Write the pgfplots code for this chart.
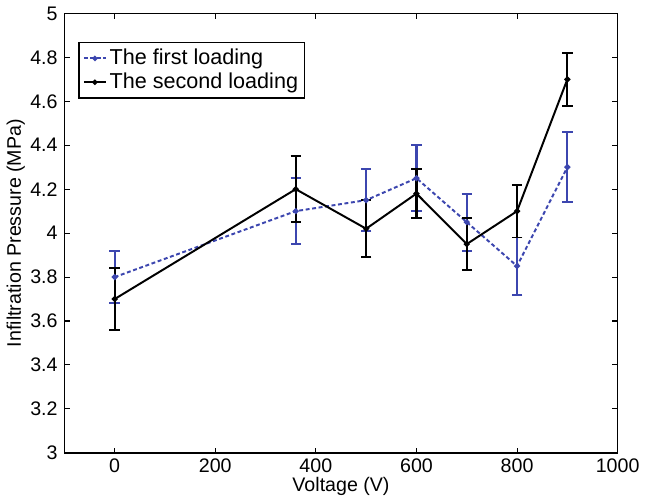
\documentclass[border=0pt]{standalone}
\usepackage{fontspec}
\setmainfont{Liberation Sans}
\usepackage{pgfplots}
\pgfplotsset{compat=1.18}
\definecolor{mblue}{RGB}{60,70,175}

\begin{document}
\fontsize{15}{18}\selectfont
\begin{tikzpicture}
\begin{axis}[
  scale only axis,
  width=423pt, height=336pt,
  xmin=-100, xmax=1000,
  ymin=3, ymax=5,
  xtick={0,200,...,1000},
  ytick={3,3.2,...,5},
  yticklabels={3,3.2,3.4,3.6,3.8,4,4.2,4.4,4.6,4.8,5},
  tick align=inside,
  major tick length=4pt,
  axis line style={line width=1pt},
  tick style={line width=0.8pt, black},
  /pgf/number format/assume math mode=true,
  /pgf/number format/1000 sep={},
  scaled ticks=false,
  xlabel={Voltage (V)},
  ylabel={Infiltration Pressure (MPa)},
  xticklabel style={yshift=1pt},
  xlabel style={yshift=6pt},
  ylabel style={yshift=-6pt},
  legend style={at={(0.025,0.935)}, anchor=north west, draw=black, line width=1pt,
    font=\fontsize{16.5}{19}\selectfont, row sep=0pt, inner sep=3pt},
  legend cell align=left,
  legend image post style={mark size=1.2pt},
]
\addplot+[mblue, densely dashed, line width=1.5pt, mark=*, mark size=1.5pt,
  mark options={solid, fill=mblue},
  error bars/.cd, y dir=both, y explicit,
  error bar style={solid, line width=1.6pt, mblue},
  error mark options={rotate=90, mark size=4pt, line width=1.5pt, mblue}]
  coordinates {
  (0,3.80) +- (0,0.12)
  (360,4.10) +- (0,0.15)
  (500,4.15) +- (0,0.14)
  (600,4.25) +- (0,0.15)
  (700,4.05) +- (0,0.13)
  (800,3.85) +- (0,0.13)
  (900,4.30) +- (0,0.16)
};
\addlegendentry{The first loading}
\addplot+[black, solid, line width=1.5pt, mark=*, mark size=1.5pt,
  mark options={solid, fill=black},
  error bars/.cd, y dir=both, y explicit,
  error bar style={solid, line width=1.6pt, black},
  error mark options={rotate=90, mark size=4pt, line width=1.5pt, black}]
  coordinates {
  (0,3.70) +- (0,0.14)
  (360,4.20) +- (0,0.15)
  (500,4.02) +- (0,0.13)
  (600,4.18) +- (0,0.11)
  (700,3.95) +- (0,0.12)
  (800,4.10) +- (0,0.12)
  (900,4.70) +- (0,0.12)
};
\addlegendentry{The second loading}
\end{axis}
\end{tikzpicture}
\end{document}
